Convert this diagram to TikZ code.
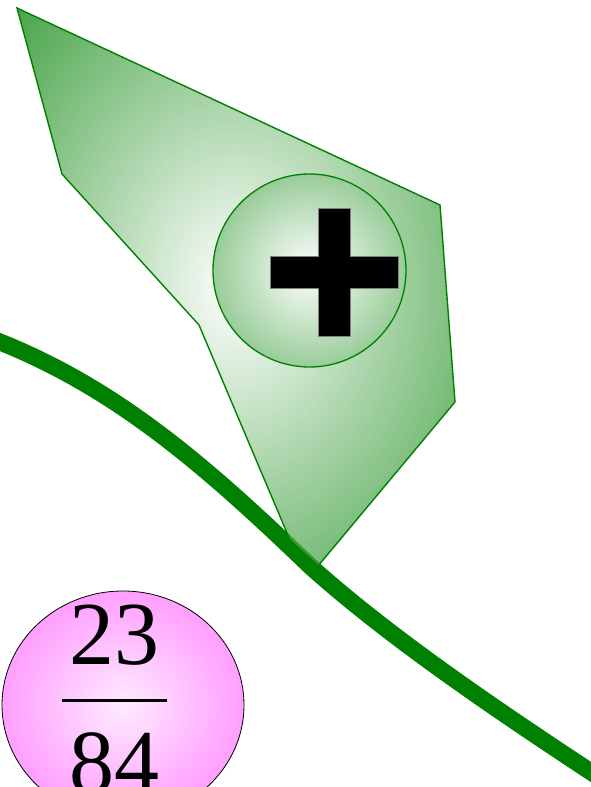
\documentclass[tikz,border=0pt]{standalone}
\usepackage{fontspec}
\setmainfont{Liberation Serif}
\usepackage{tikz}
\usetikzlibrary{shapes.geometric}
\definecolor{leafgreen}{RGB}{0,128,0}
\pgfdeclareradialshading{leafglow}{\pgfpoint{0bp}{0bp}}{color(0bp)=(white); color(35bp)=(leafgreen); color(50bp)=(leafgreen)}

\begin{document}
\begin{tikzpicture}[
  x=1pt, y=-1pt,
  stem/.style={draw=leafgreen, line width=17pt},
  leaf/.style={draw=leafgreen, line width=1.4pt, shade, shading=leafglow, fill opacity=0.7},
  bud/.style={circle, draw=leafgreen, line width=1.3pt, minimum size=193pt, inner sep=0pt, inner color=white, outer color=leafgreen!40},
  cross/.style={fill=black, draw=gray, line width=0.6pt},
  blob/.style={ellipse, draw=black, line width=0.8pt, minimum width=242pt, minimum height=228pt, inner sep=0pt, inner color=magenta!8, outer color=magenta!38},
  ratio/.style={inner sep=0pt, align=center, font=\fontsize{90}{100}\selectfont}
]
\useasboundingbox (0,0) rectangle (591,787);
\clip (0,0) rectangle (591,787);

\draw[stem] (-20,334) -- (0,342) .. controls (120,390) and (210,470) .. (310,566)
  .. controls (390,638) and (500,712) .. (591,772) -- (612,786);

\path[leaf] (17,8) -- (62,174) -- (199,325) -- (290,540) -- (318,566) -- (455,402) -- (440,205) -- cycle;

\node[bud] (bud) at (309.5,270.5) {};
\path[cross] (318,208) -- (350,208) -- (350,256) -- (398,256) -- (398,288) -- (350,288)
  -- (350,336) -- (318,336) -- (318,288) -- (270,288) -- (270,256) -- (318,256) -- cycle;

\node[blob] (blob) at (123,705) {};
\node[ratio] (val) at (114.5,699) {23\\[-62.25pt]\rule{105pt}{3.5pt}\\[-9.75pt]84};
\end{tikzpicture}
\end{document}
